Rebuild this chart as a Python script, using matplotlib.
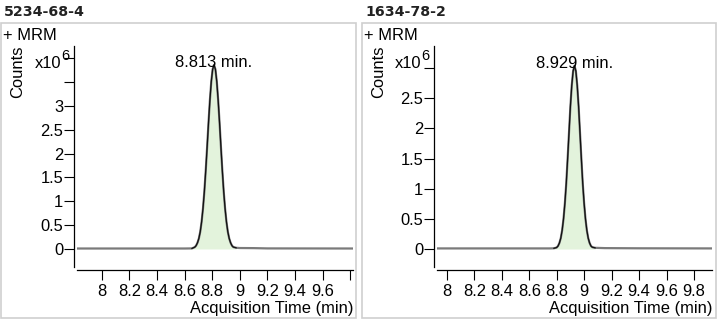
import matplotlib.pyplot as plt
from matplotlib.patches import Rectangle
from matplotlib import transforms

plt.rcParams['font.family'] = ['Liberation Sans', 'DejaVu Sans']

# compound (CAS no.) and retention time of each MRM trace
compounds = ["5234-68-4", "1634-78-2"]
retention_times = [8.813, 8.929]

# trace 1, counts in units of 1e6
time_1 = [7.82, 8.40, 8.60, 8.653, 8.673, 8.683, 8.693, 8.703, 8.713, 8.723,
          8.733, 8.743, 8.753, 8.763, 8.773, 8.783, 8.793, 8.803, 8.813, 8.823,
          8.833, 8.843, 8.853, 8.863, 8.873, 8.883, 8.893, 8.903, 8.913, 8.923,
          8.933, 8.943, 8.953, 8.973, 9.00, 9.10, 9.20, 9.82]
counts_1 = [0.01, 0.01, 0.01, 0.012, 0.038, 0.07, 0.13, 0.22, 0.36, 0.57,
            0.85, 1.21, 1.65, 2.14, 2.65, 3.12, 3.51, 3.77, 3.86, 3.77,
            3.51, 3.12, 2.65, 2.14, 1.65, 1.21, 0.85, 0.57, 0.36, 0.22,
            0.13, 0.07, 0.04, 0.025, 0.02, 0.018, 0.012, 0.01]

# trace 2
time_2 = [7.93, 8.50, 8.75, 8.779, 8.799, 8.809, 8.819, 8.829, 8.839, 8.849,
          8.859, 8.869, 8.879, 8.889, 8.899, 8.909, 8.919, 8.929, 8.939, 8.949,
          8.959, 8.969, 8.979, 8.989, 8.999, 9.009, 9.019, 9.029, 9.039, 9.049,
          9.059, 9.079, 9.15, 9.40, 9.93]
counts_2 = [0.01, 0.01, 0.01, 0.012, 0.025, 0.05, 0.10, 0.18, 0.31, 0.50,
            0.76, 1.09, 1.50, 1.93, 2.36, 2.71, 2.95, 3.04, 2.95, 2.71,
            2.36, 1.93, 1.50, 1.09, 0.76, 0.50, 0.31, 0.18, 0.10, 0.05,
            0.03, 0.02, 0.015, 0.012, 0.01]

# integrated peak windows
peak_start = [8.653, 8.779]
peak_end = [8.973, 9.079]

x_ticks = [8, 8.2, 8.4, 8.6, 8.8, 9, 9.2, 9.4, 9.6, 9.8]
x_labels_1 = ["8", "8.2", "8.4", "8.6", "8.8", "9", "9.2", "9.4", "9.6", ""]
x_labels_2 = ["8", "8.2", "8.4", "8.6", "8.8", "9", "9.2", "9.4", "9.6", "9.8"]
y_ticks_1 = [0, 0.5, 1, 1.5, 2, 2.5, 3, 3.5, 4]
y_labels_1 = ["0", "0.5", "1", "1.5", "2", "2.5", "3", "", ""]
y_ticks_2 = [0, 0.5, 1, 1.5, 2, 2.5, 3]
y_labels_2 = ["0", "0.5", "1", "1.5", "2", "2.5", ""]

W, H = 719, 322
FS = 11.9
fig = plt.figure(figsize=(W / 100, H / 100), dpi=100)

panels = [
    dict(t=time_1, c=counts_1, xlim=(7.82, 9.82), ylim=(-0.378, 4.258),
         xl=x_labels_1, yt=y_ticks_1, yl=y_labels_1, ax_x=(77, 353), box_x=(1, 356)),
    dict(t=time_2, c=counts_2, xlim=(7.927, 9.931), ylim=(-0.298, 3.365),
         xl=x_labels_2, yt=y_ticks_2, yl=y_labels_2, ax_x=(437, 712), box_x=(362, 716)),
]

for i, p in enumerate(panels):
    x0, x1 = p["ax_x"]
    ax = fig.add_axes([x0 / W, 1 - 267 / H, (x1 - x0) / W, (267 - 46) / H])
    t, c = p["t"], p["c"]

    ax.plot(t, c, color="#7a7a7a", lw=1.6, zorder=2)
    pk_t = [a for a in t if peak_start[i] <= a <= peak_end[i]]
    pk_c = [b for a, b in zip(t, c) if peak_start[i] <= a <= peak_end[i]]
    ax.fill_between(pk_t, pk_c, 0, color="#e3f3dc", lw=0, zorder=1)
    ax.plot(pk_t, pk_c, color="#111111", lw=0.9, zorder=3)

    apex = max(c)
    lbl_tr = transforms.offset_copy(ax.transData, fig=fig, y=-2, units="dots")
    ax.text(retention_times[i], apex, f"{retention_times[i]:.3f} min.",
            transform=lbl_tr, ha="center", va="baseline", fontsize=FS, zorder=4)

    ax.set_xlim(*p["xlim"])
    ax.set_ylim(*p["ylim"])
    ax.set_xticks(x_ticks)
    ax.set_xticklabels(p["xl"])
    ax.set_yticks(p["yt"])
    ax.set_yticklabels(p["yl"])
    for s in ["top", "right"]:
        ax.spines[s].set_visible(False)
    for s in ["left", "bottom"]:
        ax.spines[s].set_position(("outward", 2))
        ax.spines[s].set_linewidth(0.9)
    ax.tick_params(axis="y", length=7, width=0.8, pad=1, labelsize=FS)
    ax.tick_params(axis="x", length=7, width=0.8, pad=3, labelsize=FS)
    ax.patch.set_alpha(0)

    bx0, bx1 = p["box_x"]
    fig.patches.append(Rectangle((bx0 / W, 1 - 318 / H), (bx1 - bx0) / W, 295 / H,
                                 transform=fig.transFigure, fill=False,
                                 ec="#cfcfcf", lw=1.2))
    fig.text((bx0 + 3) / W, 1 - 12 / H, compounds[i], family="DejaVu Sans",
             fontweight="bold", fontsize=10.2, va="center", ha="left", color="#222222")
    fig.text((bx0 + 2) / W, 1 - 36 / H, "+ MRM", fontsize=FS, va="center", ha="left")
    fig.text((bx0 + 17) / W, 1 - 72 / H, "Counts", fontsize=FS, rotation=90,
             va="center", ha="center")
    fig.text((x0 - 16) / W, 1 - 63 / H, "x10", fontsize=FS, va="center", ha="right")
    fig.text((x0 - 16) / W, 1 - 56 / H, "6", fontsize=10.5, va="center", ha="left")
    fig.text(x1 / W, 1 - 309 / H, "Acquisition Time (min)", fontsize=FS,
             va="center", ha="right")

fig.savefig("out.png", dpi=100)
